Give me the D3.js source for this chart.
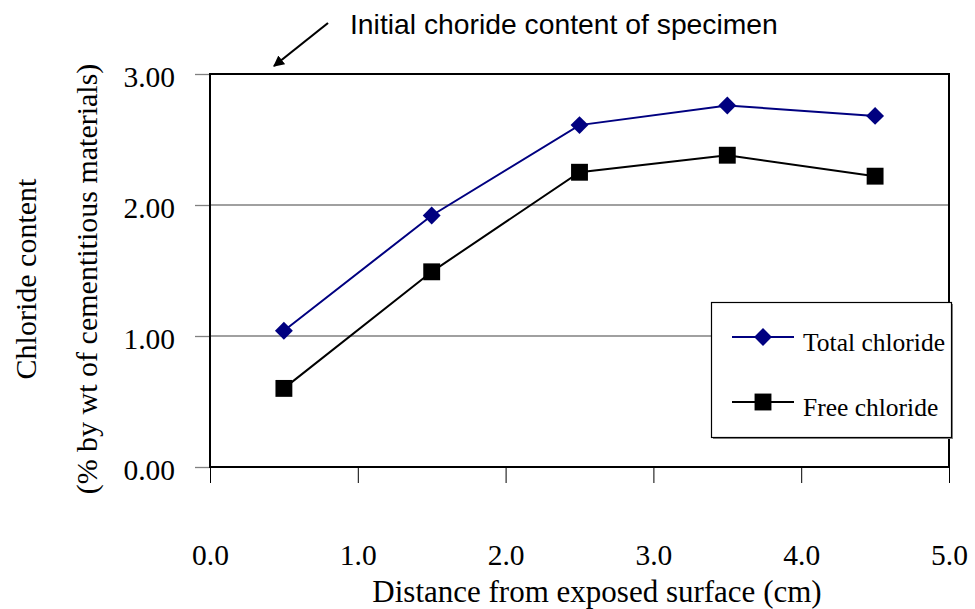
<!DOCTYPE html>
<html><head><meta charset="utf-8">
<script src="https://cdn.jsdelivr.net/npm/d3@7"></script>
<style>body{margin:0;background:#fff}svg{display:block}</style>
</head><body>
<script>
const distances = [0.5, 1.5, 2.5, 3.5, 4.5];
const totalChloride = [1.04, 1.92, 2.61, 2.76, 2.68];
const freeChloride = [0.60, 1.49, 2.25, 2.38, 2.22];
const xTicks = [0, 1, 2, 3, 4, 5];
const yTicks = [0, 1, 2, 3];
const seriesNames = ["Total chloride", "Free chloride"];

const W = 975, H = 609;
const m = {l: 210, r: 949, t: 74, b: 467};
const svg = d3.select("body").append("svg").attr("width", W).attr("height", H);
const x = d3.scaleLinear().domain([0, 5]).range([m.l, m.r]);
const y = d3.scaleLinear().domain([0, 3]).range([m.b, m.t]);
const serif = "'Liberation Serif','Times New Roman',serif";

// gridlines
svg.append("g").selectAll("line").data([1, 2]).join("line")
  .attr("x1", m.l).attr("x2", m.r).attr("y1", d => y(d)).attr("y2", d => y(d))
  .attr("stroke", "#808080").attr("stroke-width", 1.3);

// y axis
const ya = svg.append("g").attr("transform", `translate(${m.l},0)`)
  .call(d3.axisLeft(y).tickValues(yTicks).tickFormat(d3.format(".2f")).tickSize(15).tickPadding(20));
ya.select(".domain").remove();
ya.selectAll("line").attr("stroke", "#808080").attr("stroke-width", 1.3);
ya.selectAll("text").attr("font-family", serif).attr("font-size", 29.5).attr("fill", "#000")
  .attr("x", -35).attr("dy", "0.42em");

// x axis
const xa = svg.append("g").attr("transform", `translate(0,${m.b})`)
  .call(d3.axisBottom(x).tickValues(xTicks).tickFormat(d3.format(".1f")).tickSize(16));
xa.select(".domain").remove();
xa.selectAll("line").attr("stroke", "#000").attr("stroke-width", 1);
xa.selectAll("text").attr("font-family", serif).attr("font-size", 29.5).attr("fill", "#000")
  .attr("y", 98).attr("dy", 0);

// frame
svg.append("rect").attr("x", m.l).attr("y", m.t).attr("width", m.r - m.l).attr("height", m.b - m.t)
  .attr("fill", "none").attr("stroke", "#000").attr("stroke-width", 2);

const line = d3.line().x((d, i) => x(distances[i])).y(d => y(d));
const colors = ["#000080", "#000000"];
svg.append("path").datum(totalChloride).attr("d", line).attr("fill", "none").attr("stroke", colors[0]).attr("stroke-width", 2);
svg.append("path").datum(freeChloride).attr("d", line).attr("fill", "none").attr("stroke", colors[1]).attr("stroke-width", 2);

const diamond = d3.symbol().type(d3.symbolSquare).size(160);
svg.append("g").selectAll("path").data(totalChloride).join("path")
  .attr("d", diamond).attr("fill", colors[0])
  .attr("transform", (d, i) => `translate(${x(distances[i])},${y(d)}) rotate(45)`);
const square = d3.symbol().type(d3.symbolSquare).size(285);
svg.append("g").selectAll("path").data(freeChloride).join("path")
  .attr("d", square).attr("fill", colors[1])
  .attr("transform", (d, i) => `translate(${x(distances[i])},${y(d)})`);

// legend
const lg = svg.append("g");
lg.append("rect").attr("x", 713).attr("y", 304).attr("width", 240).attr("height", 135).attr("fill", "#888");
lg.append("rect").attr("x", 711.5).attr("y", 302.5).attr("width", 240).attr("height", 135)
  .attr("fill", "#fff").attr("stroke", "#000").attr("stroke-width", 1.2);
const rowsY = [337, 402];
seriesNames.forEach((n, i) => {
  lg.append("line").attr("x1", 732).attr("x2", 794).attr("y1", rowsY[i]).attr("y2", rowsY[i])
    .attr("stroke", colors[i]).attr("stroke-width", 2);
  lg.append("path").attr("d", i === 0 ? diamond : square).attr("fill", colors[i])
    .attr("transform", `translate(763,${rowsY[i]})` + (i === 0 ? " rotate(45)" : ""));
  lg.append("text").attr("x", 803).attr("y", rowsY[i] + 14).text(n)
    .attr("font-family", serif).attr("font-size", 25.5).attr("fill", "#000");
});

// axis titles
svg.append("text").attr("x", 597).attr("y", 602).attr("text-anchor", "middle")
  .attr("font-family", serif).attr("font-size", 31).text("Distance from exposed surface (cm)");
svg.append("text").attr("transform", "translate(36,279) rotate(-90)").attr("text-anchor", "middle")
  .attr("font-family", serif).attr("font-size", 30).text("Chloride content");
svg.append("text").attr("transform", "translate(97,279) rotate(-90)").attr("text-anchor", "middle")
  .attr("font-family", serif).attr("font-size", 30).text("(% by wt of cementitious materials)");

// annotation
svg.append("defs").append("marker").attr("id", "ah").attr("viewBox", "0 0 10 10")
  .attr("refX", 9).attr("refY", 5).attr("markerWidth", 5).attr("markerHeight", 5).attr("orient", "auto")
  .append("path").attr("d", "M0,0 L10,5 L0,10 z").attr("fill", "#000");
svg.append("line").attr("x1", 328).attr("y1", 23).attr("x2", 274).attr("y2", 66)
  .attr("stroke", "#000").attr("stroke-width", 2.2).attr("marker-end", "url(#ah)");
svg.append("text").attr("x", 350).attr("y", 34).attr("font-family", "'Liberation Sans',Arial,sans-serif")
  .attr("font-size", 28.3).text("Initial choride content of specimen");
</script>
</body></html>
